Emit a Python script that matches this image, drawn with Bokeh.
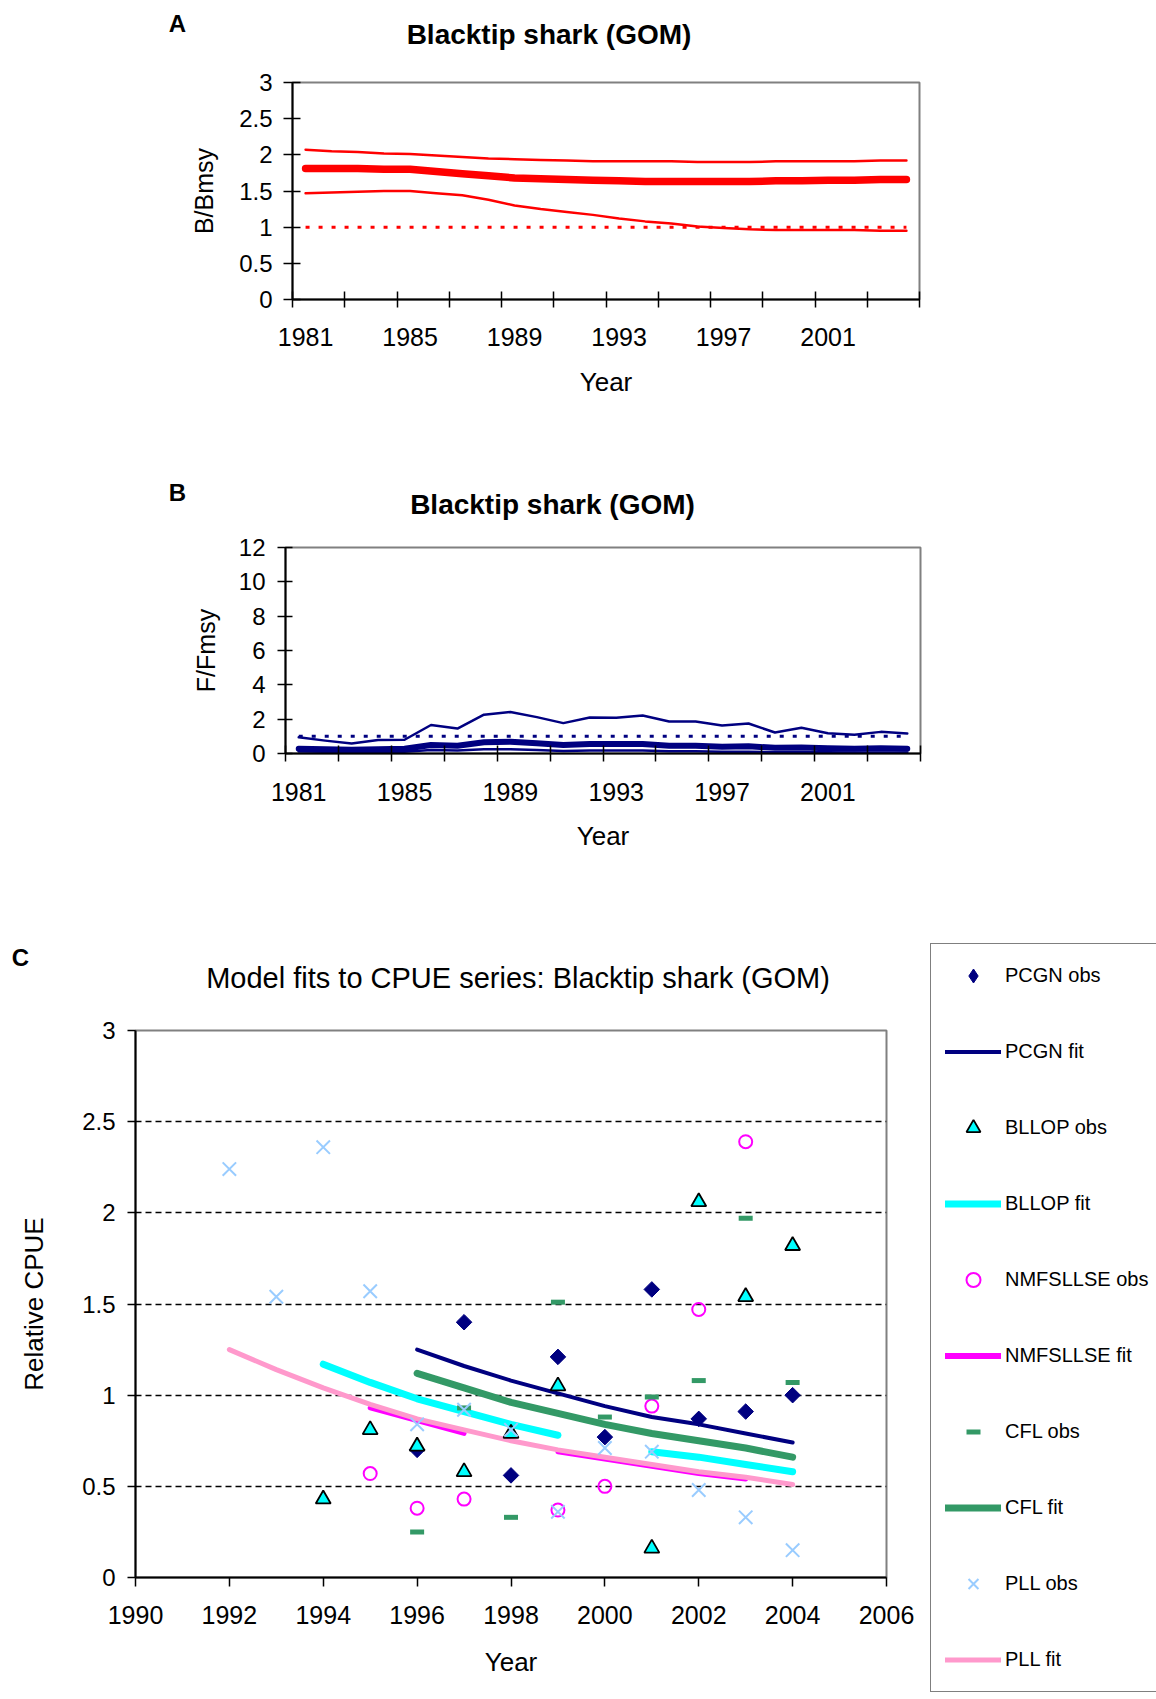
import numpy as np
from bokeh.plotting import figure
from bokeh.models import FixedTicker, Label, Legend, LegendItem, NumeralTickFormatter
from bokeh.layouts import column, row
from bokeh.embed import file_html
from bokeh.resources import INLINE

FONT = "Liberation Sans"
nan = float("nan")

# ---------------- data: panels A and B (1981-2004) ----------------
years = list(range(1981, 2005))
year_tick_labels = [1981, 1985, 1989, 1993, 1997, 2001]

b_upper = [2.07, 2.05, 2.04, 2.02, 2.01, 1.99, 1.97, 1.95, 1.94, 1.93, 1.92, 1.91,
           1.91, 1.91, 1.91, 1.90, 1.90, 1.90, 1.91, 1.91, 1.91, 1.91, 1.92, 1.92]
b_median = [1.81, 1.81, 1.81, 1.80, 1.80, 1.77, 1.74, 1.71, 1.68, 1.67, 1.66, 1.65,
            1.64, 1.63, 1.63, 1.63, 1.63, 1.63, 1.64, 1.64, 1.65, 1.65, 1.66, 1.66]
b_lower = [1.47, 1.48, 1.49, 1.50, 1.50, 1.47, 1.44, 1.38, 1.30, 1.25, 1.21, 1.17,
           1.12, 1.08, 1.05, 1.01, 0.99, 0.97, 0.96, 0.96, 0.96, 0.96, 0.95, 0.95]

f_upper = [0.94, 0.75, 0.58, 0.78, 0.80, 1.66, 1.45, 2.26, 2.42, 2.12, 1.77, 2.10,
           2.08, 2.21, 1.86, 1.86, 1.63, 1.75, 1.22, 1.50, 1.18, 1.09, 1.26, 1.17]
f_median = [0.28, 0.25, 0.22, 0.25, 0.28, 0.50, 0.45, 0.65, 0.68, 0.60, 0.50, 0.55,
            0.55, 0.55, 0.45, 0.45, 0.40, 0.42, 0.33, 0.35, 0.30, 0.28, 0.30, 0.28]
f_lower = [0.12, 0.10, 0.08, 0.10, 0.10, 0.20, 0.18, 0.25, 0.25, 0.20, 0.15, 0.17,
           0.17, 0.17, 0.13, 0.13, 0.10, 0.10, 0.08, 0.08, 0.07, 0.06, 0.06, 0.06]

ref_years = [1981, 2004]
ref_level = [1.0, 1.0]

b_ticks = [0, 0.5, 1, 1.5, 2, 2.5, 3]
f_ticks = [0, 2, 4, 6, 8, 10, 12]

# ---------------- data: panel C (CPUE) ----------------
pcgn_years = [1996, 1997, 1998, 1999, 2000, 2001, 2002, 2003, 2004]
pcgn_obs = [0.70, 1.40, 0.56, 1.21, 0.77, 1.58, 0.87, 0.91, 1.00]
pcgn_fit = [1.25, 1.16, 1.08, 1.01, 0.94, 0.88, 0.84, 0.79, 0.74]

bllop_obs_years = [1994, 1995, 1996, 1997, 1998, 1999, 2001, 2002, 2003, 2004]
bllop_obs = [0.43, 0.81, 0.72, 0.58, 0.79, 1.05, 0.16, 2.06, 1.54, 1.82]
bllop_fit_years = [1994, 1995, 1996, 1997, 1998, 1999, 2000, 2001, 2002, 2003, 2004]
bllop_fit = [1.17, 1.07, 0.98, 0.91, 0.84, 0.78, nan, 0.69, 0.66, 0.62, 0.58]

nmfs_obs_years = [1995, 1996, 1997, 1999, 2000, 2001, 2002, 2003]
nmfs_obs = [0.57, 0.38, 0.43, 0.37, 0.50, 0.94, 1.47, 2.39]
nmfs_fit_years = [1995, 1996, 1997, 1998, 1999, 2000, 2001, 2002, 2003]
nmfs_fit = [0.93, 0.86, 0.79, nan, 0.69, 0.65, 0.61, 0.57, 0.54]

cfl_years = [1996, 1997, 1998, 1999, 2000, 2001, 2002, 2003, 2004]
cfl_obs = [0.25, 0.93, 0.33, 1.51, 0.88, 0.99, 1.08, 1.97, 1.07]
cfl_fit = [1.12, 1.04, 0.96, 0.90, 0.84, 0.79, 0.75, 0.71, 0.66]

pll_years = list(range(1992, 2005))
pll_obs = [2.24, 1.54, 2.36, 1.57, 0.84, 0.92, 0.81, 0.36, 0.71, 0.69, 0.48, 0.33, 0.15]
pll_fit = [1.25, 1.14, 1.04, 0.95, 0.87, 0.81, 0.75, 0.70, 0.66, 0.62, 0.58, 0.55, 0.51]

c_xticks = [1990, 1992, 1994, 1996, 1998, 2000, 2002, 2004, 2006]
c_yticks = [0, 0.5, 1, 1.5, 2, 2.5, 3]
c_grid = [0.5, 1, 1.5, 2, 2.5]

NAVY, RED = "#000080", "#FF0000"
CYAN, MAGENTA, GREEN, LBLUE, PINK = "#00FFFF", "#FF00FF", "#339966", "#99CCFF", "#FF99CC"
GRAY = "#808080"


def no_align(p):
    try:
        p.frame_align = False
    except Exception:
        pass


def no_title(p):
    try:
        p.title = None
    except Exception:
        p.title.visible = False


def make_fig(W, H, bl, br, bt, bb, xr, yr):
    p = figure(width=W, height=H, x_range=xr, y_range=yr, output_backend="svg",
               toolbar_location=None, min_border_left=bl, min_border_right=br,
               min_border_top=bt, min_border_bottom=bb)
    no_title(p)
    no_align(p)
    p.background_fill_color = "white"
    p.border_fill_color = "white"
    p.outline_line_color = GRAY
    p.outline_line_width = 2
    p.xgrid.visible = False
    p.ygrid.visible = False
    for ax in (p.xaxis[0], p.yaxis[0]):
        ax.axis_line_color = "black"
        ax.axis_line_width = 2
        ax.major_tick_line_color = "black"
        ax.major_tick_line_width = 1.5
        ax.minor_tick_line_color = "black"
        ax.minor_tick_line_width = 1.5
        ax.major_label_text_font = FONT
        ax.major_label_text_color = "black"
        ax.axis_label_text_font = FONT
        ax.axis_label_text_font_style = "normal"
        ax.axis_label_text_color = "black"
    return p


def blank_fig(W, H):
    p = figure(width=W, height=H, x_range=(0, W), y_range=(H, 0), output_backend="svg",
               toolbar_location=None, min_border=0, x_axis_location=None,
               y_axis_location=None)
    no_title(p)
    no_align(p)
    p.outline_line_color = None
    p.grid.visible = False
    p.background_fill_color = "white"
    p.border_fill_color = "white"
    return p


def header(W, H, items):
    p = blank_fig(W, H)
    for cx, cy, text, size, bold in items:
        p.add_layout(Label(x=cx, y=cy, text=text, text_font=FONT, text_font_size=size,
                           text_font_style="bold" if bold else "normal",
                           text_color="black", text_align="center",
                           text_baseline="middle"))
    return p


def year_axis(p, standoff, lab_standoff):
    xa = p.xaxis[0]
    bounds = [1980.5 + 2 * k for k in range(13)]
    xa.ticker = FixedTicker(ticks=year_tick_labels, minor_ticks=bounds)
    xa.major_tick_in = 0
    xa.major_tick_out = 0
    xa.minor_tick_in = 8
    xa.minor_tick_out = 8
    xa.major_label_text_font_size = "25px"
    xa.major_label_standoff = standoff
    xa.axis_label = "Year"
    xa.axis_label_text_font_size = "26px"
    xa.axis_label_standoff = lab_standoff


# ---------------- Panel A ----------------
hA = header(1156, 60, [(177, 22.5, "A", "24px", True),
                       (548.5, 34, "Blacktip shark (GOM)", "28px", True)])
pA = make_fig(1156, 370, 292, 237, 22, 131, (1980.5, 2004.5), (0, 3))
year_axis(pA, 20, 18)
ya = pA.yaxis[0]
ya.ticker = FixedTicker(ticks=b_ticks)
ya.formatter = NumeralTickFormatter(format="0.[0]")
ya.major_tick_in = 8
ya.major_tick_out = 9
ya.major_label_text_font_size = "24px"
ya.major_label_standoff = 11
ya.axis_label = "B/Bmsy"
ya.axis_label_text_font_size = "25px"
ya.axis_label_standoff = 18

pA.line(ref_years, ref_level, line_color=RED, line_width=3, line_dash="4 9")
pA.line(years, b_upper, line_color=RED, line_width=2.5, line_cap="round", line_join="round")
pA.line(years, b_lower, line_color=RED, line_width=2.5, line_cap="round", line_join="round")
pA.line(years, b_median, line_color=RED, line_width=7.5, line_cap="round", line_join="round")

# ---------------- Panel B ----------------
hB = header(1156, 100, [(177, 61.5, "B", "24px", True),
                        (552, 74, "Blacktip shark (GOM)", "28px", True)])
pB = make_fig(1156, 330, 285, 236, 17, 107, (1980.5, 2004.5), (0, 12))
year_axis(pB, 21, 17)
yb = pB.yaxis[0]
yb.ticker = FixedTicker(ticks=f_ticks)
yb.major_tick_in = 7
yb.major_tick_out = 8
yb.major_label_text_font_size = "24px"
yb.major_label_standoff = 12
yb.axis_label = "F/Fmsy"
yb.axis_label_text_font_size = "25px"
yb.axis_label_standoff = 16

pB.line(ref_years, ref_level, line_color=NAVY, line_width=3, line_dash="4 9")
pB.line(years, f_upper, line_color=NAVY, line_width=2.5, line_cap="round", line_join="round")
pB.line(years, f_lower, line_color=NAVY, line_width=2.5, line_cap="round", line_join="round")
pB.line(years, f_median, line_color=NAVY, line_width=6, line_cap="round", line_join="round")

# ---------------- Panel C ----------------
hC = header(924, 140, [(20, 97, "C", "24px", True),
                       (517.5, 117, "Model fits to CPUE series: Blacktip shark (GOM)", "29px", False)])
pC = make_fig(924, 699, 135, 38, 30, 122, (1990, 2006), (0, 3))
xc = pC.xaxis[0]
xc.ticker = FixedTicker(ticks=c_xticks)
xc.major_tick_in = 0
xc.major_tick_out = 9
xc.major_label_text_font_size = "25px"
xc.major_label_standoff = 19
xc.axis_label = "Year"
xc.axis_label_text_font_size = "26px"
xc.axis_label_standoff = 20
yc = pC.yaxis[0]
yc.ticker = FixedTicker(ticks=c_yticks)
yc.formatter = NumeralTickFormatter(format="0.[0]")
yc.major_tick_in = 0
yc.major_tick_out = 8
yc.major_label_text_font_size = "24px"
yc.major_label_standoff = 12
yc.axis_label = "Relative CPUE"
yc.axis_label_text_font_size = "26px"
yc.axis_label_standoff = 30
pC.ygrid.visible = True
pC.ygrid.ticker = FixedTicker(ticks=c_grid)
pC.ygrid.grid_line_color = "black"
pC.ygrid.grid_line_width = 1.3
pC.ygrid.grid_line_dash = "6 4"

lw = dict(line_cap="round", line_join="round")
pC.line(pcgn_years, pcgn_fit, line_color=NAVY, line_width=4, **lw)
pC.line(bllop_fit_years, np.array(bllop_fit), line_color=CYAN, line_width=7, **lw)
pC.line(nmfs_fit_years, np.array(nmfs_fit), line_color=MAGENTA, line_width=5, **lw)
pC.line(cfl_years, cfl_fit, line_color=GREEN, line_width=7, **lw)
pC.line(pll_years, pll_fit, line_color=PINK, line_width=5, **lw)

M_TRI = dict(marker="triangle", size=15, fill_color=CYAN, line_color="black", line_width=1.8)
M_CIRC = dict(marker="circle", size=13, fill_color=None, line_color=MAGENTA, line_width=2)
M_DASH = dict(marker="dash", size=14, line_color=GREEN, line_width=5)
M_X = dict(marker="x", size=19, line_color=LBLUE, line_width=2)

pC.scatter(pcgn_years, pcgn_obs, marker="square", angle=np.pi / 4, size=11,
           fill_color=NAVY, line_color=NAVY)
pC.scatter(bllop_obs_years, bllop_obs, **M_TRI)
pC.scatter(nmfs_obs_years, nmfs_obs, **M_CIRC)
pC.scatter(cfl_years, cfl_obs, **M_DASH)
pC.scatter(pll_years, pll_obs, **M_X)

# ---------------- legend (own canvas, right of panel C) ----------------
LW, LH = 232, 839
pL = blank_fig(LW, LH)
e = [np.nan]
leg_r = [
    ("PCGN obs", pL.scatter(e, e, marker="diamond", fill_color=NAVY, line_color=NAVY)),
    ("PCGN fit", pL.line(e, e, line_color=NAVY, line_width=4, **lw)),
    ("BLLOP obs", pL.scatter(e, e, **M_TRI)),
    ("BLLOP fit", pL.line(e, e, line_color=CYAN, line_width=7, **lw)),
    ("NMFSLLSE obs", pL.scatter(e, e, **M_CIRC)),
    ("NMFSLLSE fit", pL.line(e, e, line_color=MAGENTA, line_width=6, **lw)),
    ("CFL obs", pL.scatter(e, e, **M_DASH)),
    ("CFL fit", pL.line(e, e, line_color=GREEN, line_width=7, **lw)),
    ("PLL obs", pL.scatter(e, e, **M_X)),
    ("PLL fit", pL.line(e, e, line_color=PINK, line_width=5, **lw)),
]
pad, gh, sp = 14, 35, 41
leg_h = 2 * pad + len(leg_r) * gh + (len(leg_r) - 1) * sp
leg_top = 945 - 860
leg_left = 930 - 924
legend = Legend(
    items=[LegendItem(label=t, renderers=[r]) for t, r in leg_r],
    location=(leg_left, LH - leg_top - leg_h),
    orientation="vertical", padding=pad, spacing=sp, margin=0,
    glyph_width=56, glyph_height=gh, label_height=gh, label_width=200, label_standoff=4,
    label_text_font=FONT, label_text_font_size="20px", label_text_color="black",
    border_line_color="black", border_line_width=1.2,
    background_fill_color="white", background_fill_alpha=1.0,
)
pL.add_layout(legend)

layout = column(hA, pA, hB, pB, row(column(hC, pC, spacing=0), pL, spacing=0), spacing=0)
open("out.html", "w").write(file_html(layout, INLINE))
